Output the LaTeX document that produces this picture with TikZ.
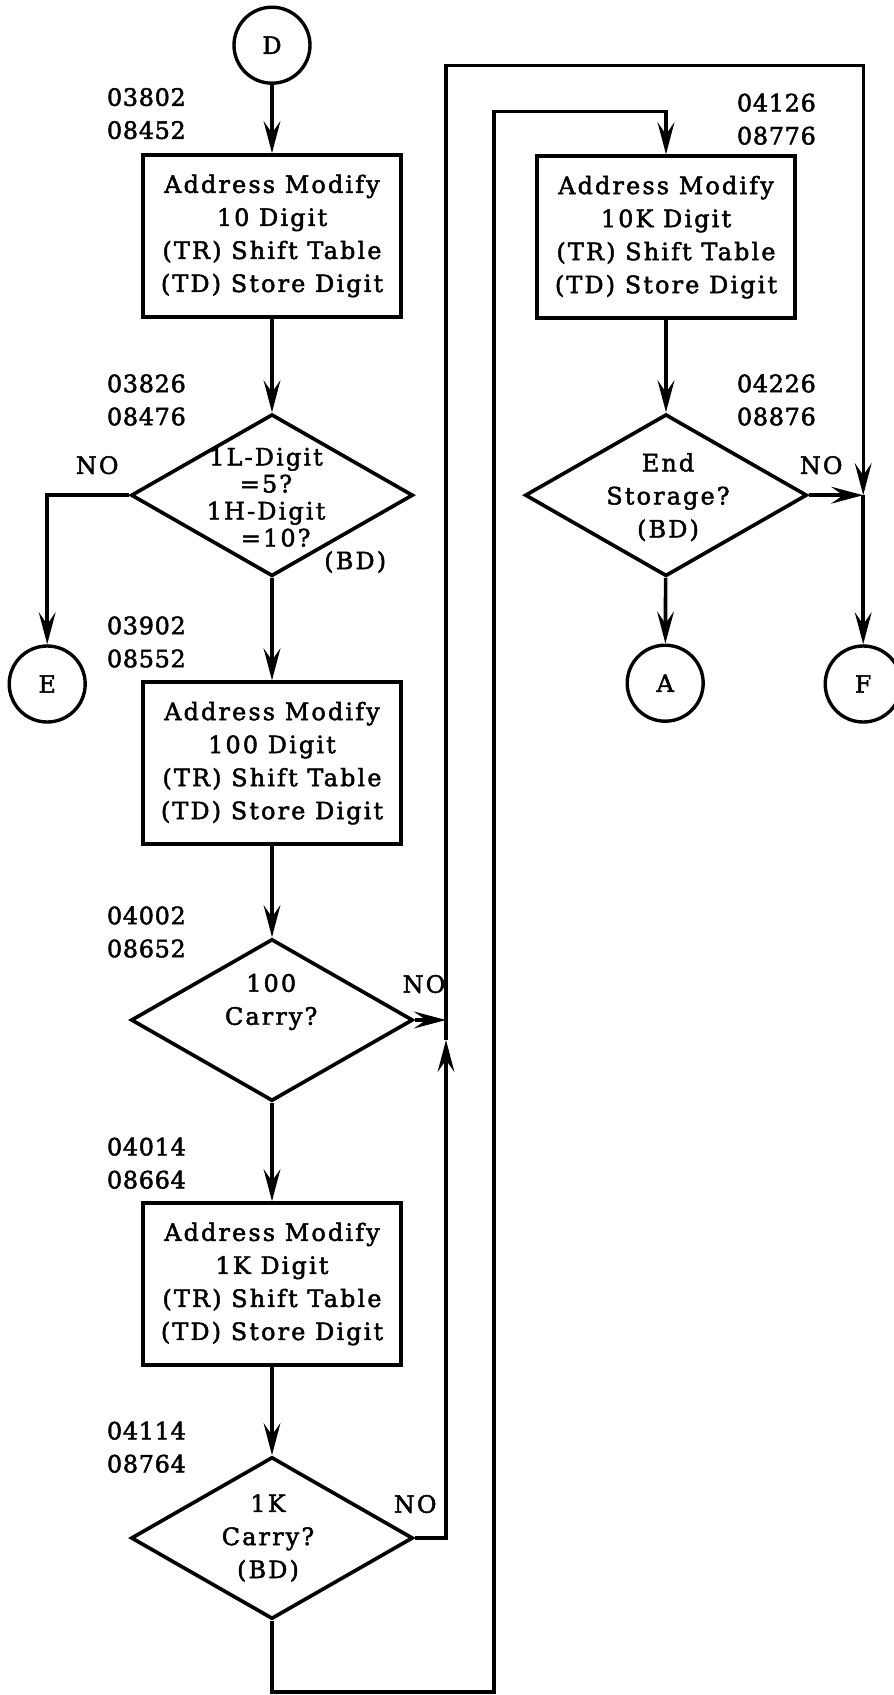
\documentclass[tikz,border=0pt]{standalone}
\usepackage{fontspec}
\setmainfont{DejaVu Serif}[LetterSpace=9, FakeBold=2]
\usetikzlibrary{shapes.geometric,arrows.meta}

\begin{document}
\begin{tikzpicture}[every node/.style={font=\fontsize{17}{23.5}\selectfont},
        procbox/.style={draw, line width=2.6pt, minimum width=6.45cm, minimum height=4.05cm, align=center, inner sep=0pt},
        decision/.style={draw, diamond, line width=2.6pt, minimum width=7.05cm, minimum height=4.05cm, inner sep=0pt},
        pagecon/.style={draw, circle, line width=2.4pt, minimum size=1.9cm, inner sep=0pt},
        addr/.style={anchor=west, align=left, font=\fontsize{17}{23.5}\selectfont\addfontfeature{LetterSpace=3}},
        arrow/.style={-{Stealth[length=0.8cm, width=0.42cm, inset=0.3cm]}, line width=2.6pt},
        loopline/.style={-{Stealth[length=0.8cm, width=0.42cm, inset=0.3cm]}, line width=2.3pt}]

        \useasboundingbox (0,0) rectangle (22.35,-42.375);

        % left column
        \node[pagecon] (D) at (6.8,-1.13) {D};
        \node[addr] (a1) at (2.55,-2.84) {03802\\08452};
        \node[procbox] (m10) at (6.8,-5.9) {Address Modify\\10 Digit\\(TR) Shift Table\\(TD) Store Digit};
        \node[addr] (a2) at (2.55,-10.0) {03826\\08476};
        \node[decision] (q5) at (6.8,-12.38) {};
        \node[font=\fontsize{17}{19.2}\selectfont, align=center] (q5txt) at (6.65,-12.43) {1L-Digit\\=5?\\1H-Digit\\\ \ =10?};
        \node (q5bd) at (8.88,-14.05) {(BD)};
        \node (q5no) at (2.43,-11.63) {NO};
        \node[pagecon] (E) at (1.18,-17.1) {E};
        \node[addr] (a3) at (2.55,-16.05) {03902\\08552};
        \node[procbox] (m100) at (6.8,-19.08) {Address Modify\\100 Digit\\(TR) Shift Table\\(TD) Store Digit};
        \node[addr] (a4) at (2.55,-23.3) {04002\\08652};
        \node[decision] (c100) at (6.8,-25.5) {};
        \node[align=center] (c100txt) at (6.78,-25.05) {100\\Carry?};
        \node (c100no) at (10.6,-24.6) {NO};
        \node[addr] (a5) at (2.55,-29.08) {04014\\08664};
        \node[procbox] (m1k) at (6.8,-32.1) {Address Modify\\1K Digit\\(TR) Shift Table\\(TD) Store Digit};
        \node[addr] (a6) at (2.55,-36.18) {04114\\08764};
        \node[decision] (c1k) at (6.8,-38.45) {};
        \node[align=center] (c1ktxt) at (6.7,-38.45) {1K\\Carry?\\(BD)};
        \node (c1kno) at (10.38,-37.6) {NO};

        % right column
        \node[addr] (a7) at (18.3,-2.98) {04126\\08776};
        \node[procbox] (m10k) at (16.65,-5.93) {Address Modify\\10K Digit\\(TR) Shift Table\\(TD) Store Digit};
        \node[addr] (a8) at (18.3,-10.0) {04226\\08876};
        \node[decision] (endq) at (16.65,-12.38) {};
        \node[align=center] (endtxt) at (16.7,-12.43) {End\\Storage?\\(BD)};
        \node (endno) at (20.53,-11.63) {NO};
        \node[pagecon] (A) at (16.63,-17.08) {A};
        \node[pagecon] (F) at (21.58,-17.1) {F};

        \coordinate (jA) at (11.15,-25.5);
        \coordinate (jB) at (11.15,-26.0);
        \coordinate (topR) at (21.58,-1.63);
        \coordinate (jF) at (21.58,-12.38);
        \coordinate (botL) at (12.35,-42.3);
        \coordinate (topL) at (12.35,-2.78);

        \draw[arrow] (D) -- (m10);
        \draw[arrow] (m10) -- (q5);
        \draw[arrow] (q5.west) -| (E);
        \draw[arrow] (q5) -- (m100);
        \draw[arrow] (m100) -- (c100);
        \draw[arrow] (c100.east) -- (jA);
        \draw[arrow] (c100) -- (m1k);
        \draw[arrow] (m1k) -- (c1k);
        \draw[loopline] (c1k.east) -| (jB);
        \draw[loopline] (jB) |- (topR) -- (jF);
        \draw[loopline] (c1k.south) |- (botL) -- (topL) -| (m10k.north);
        \draw[arrow] (m10k) -- (endq);
        \draw[arrow] (endq.east) -- (jF);
        \draw[arrow] (jF) -- (F);
        \draw[arrow] (endq) -- (A);
      \end{tikzpicture}
\end{document}
